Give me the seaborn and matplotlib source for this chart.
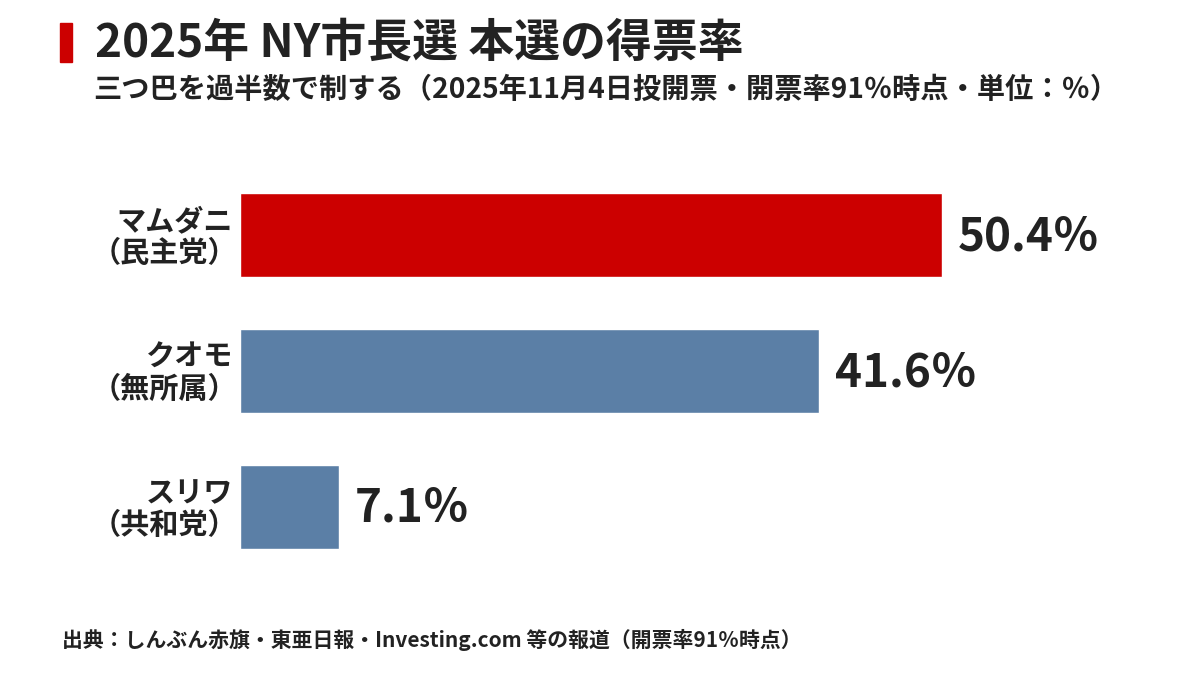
import numpy as np
import pandas as pd
import matplotlib.pyplot as plt
import seaborn as sns

# datos
candidatos = ["マムダニ", "クオモ", "スリワ"]
partidos = ["（民主党）", "（無所属）", "（共和党）"]
votos = [50.4, 41.6, 7.1]
colores = ["#cc0000", "#5b7fa6", "#5b7fa6"]

df = pd.DataFrame({"candidato": candidatos, "partido": partidos, "voto": votos})

sns.set_theme(style="white")
plt.rcParams['font.family'] = ['Noto Sans CJK JP', 'DejaVu Sans']
texto = "#222222"

fig = plt.figure(figsize=(12, 6.75), dpi=100)
ax = fig.add_axes([240 / 1200, 1 - 575 / 675, 900 / 1200, 408 / 675])

sns.barplot(data=df, x="voto", y="candidato", hue="candidato", palette=colores,
            width=0.62, legend=False, ax=ax, saturation=1)
ax.set_xlim(0, 900 / 13.93)
ax.set_ylim(2.5, -0.5)
ax.set_xticks([])
ax.set_yticks([])
ax.set_xlabel("")
ax.set_ylabel("")
for s in ax.spines.values():
    s.set_visible(False)

# etiquetas de valor y de categoria
for i, (c, p, v) in enumerate(zip(candidatos, partidos, votos)):
    ax.annotate(f"{v}％", xy=(v, i), xytext=(11.5, -10.8), textcoords="offset points",
                va="baseline", ha="left", fontsize=33, fontweight="bold", color=texto)
    ax.annotate(c, xy=(0, i), xytext=(-5, 10), textcoords="offset points",
                va="center", ha="right", fontsize=21, fontweight="bold", color=texto)
    ax.annotate(p, xy=(0, i), xytext=(-2, -13), textcoords="offset points",
                va="center", ha="right", fontsize=21, fontweight="bold", color=texto)

# titulo
fig.patches.append(plt.Rectangle((60 / 1200, 1 - 62 / 675), 12 / 1200, 39 / 675,
                                 transform=fig.transFigure, color="#cc0000"))
fig.text(95 / 1200, 1 - 57 / 675, "2025年 NY市長選 本選の得票率", fontsize=33,
         fontweight="bold", color=texto, va="baseline", ha="left")
fig.text(93 / 1200, 1 - 98 / 675,
         "三つ巴を過半数で制する（2025年11月4日投開票・開票率91％時点・単位：％）",
         fontsize=20.3, fontweight="bold", color=texto, va="baseline", ha="left")

fig.text(62 / 1200, 1 - 647 / 675,
         "出典：しんぶん赤旗・東亜日報・Investing.com 等の報道（開票率91％時点）",
         fontsize=15, fontweight="bold", color=texto, va="baseline", ha="left")

fig.savefig("out.png", dpi=100, facecolor="white")
